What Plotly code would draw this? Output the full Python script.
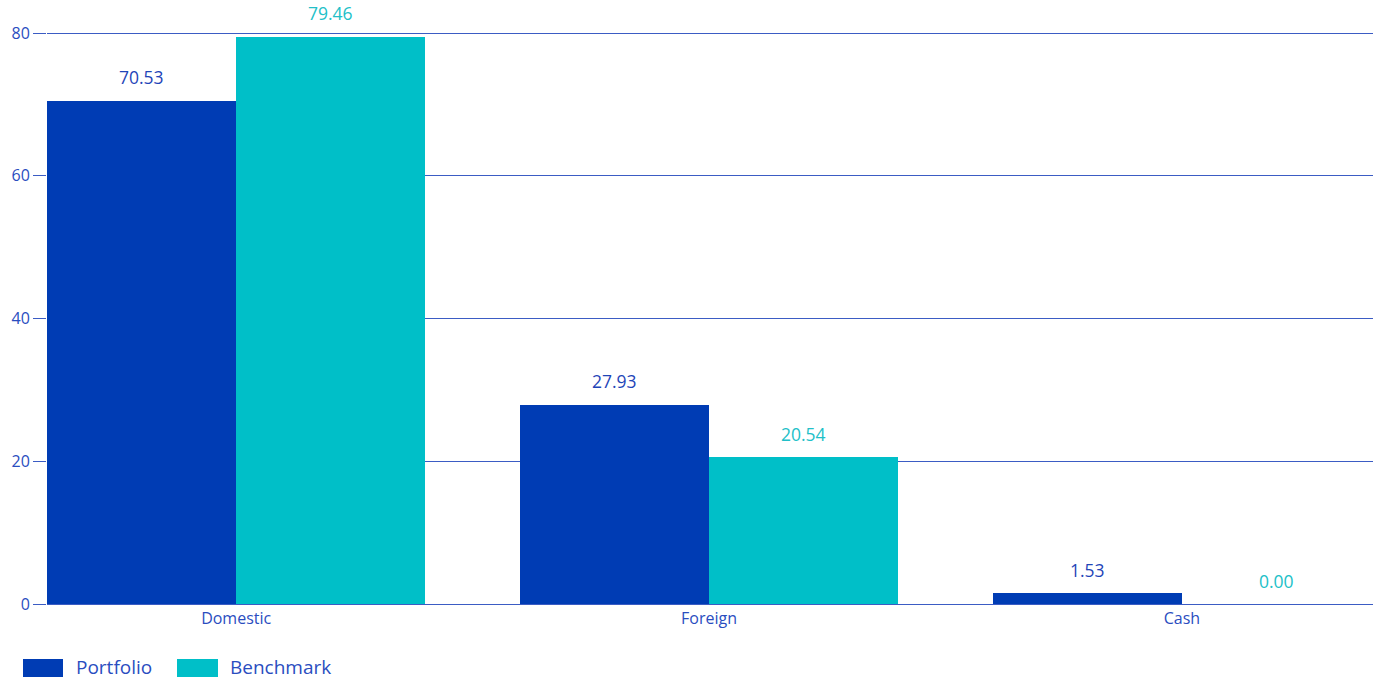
import plotly.graph_objects as go

categories = ["Domestic", "Foreign", "Cash"]
portfolio = [70.53, 27.93, 1.53]
benchmark = [79.46, 20.54, 0.00]
y_ticks = [0, 20, 40, 60, 80]

PORT_COLOR = "#003cb4"
BENCH_COLOR = "#00bfc8"
TEXT_COLOR = "#2a4dbf"
GRID_COLOR = "#3b5cc4"
FONT = "Open Sans"

xpos = list(range(len(categories)))

fig = go.Figure()
fig.add_trace(go.Bar(x=[i - 0.2 for i in xpos], y=portfolio, width=0.4, name="Portfolio",
                     marker=dict(color=PORT_COLOR, line=dict(width=0)), showlegend=False))
fig.add_trace(go.Bar(x=[i + 0.2 for i in xpos], y=benchmark, width=0.4, name="Benchmark",
                     marker=dict(color=BENCH_COLOR, line=dict(width=0)), showlegend=False))

annotations = []
for i, v in enumerate(portfolio):
    annotations.append(dict(x=i - 0.2, y=v, xref="x", yref="y", text=f"{v:.2f}", showarrow=False,
                            yanchor="middle", yshift=23.5, font=dict(color="#1f45b8", size=17.5, family=FONT)))
for i, v in enumerate(benchmark):
    annotations.append(dict(x=i + 0.2, y=v, xref="x", yref="y", text=f"{v:.2f}", showarrow=False,
                            yanchor="middle", yshift=23.5, font=dict(color="#22bfc8", size=17.5, family=FONT)))

# plot area in pixels
PL, PR, PT, PB = 47, 1373, 31, 604
PW, PH = PR - PL, PB - PT

# custom legend (pixel positions converted relative to the plot area)
legend_items = [("Portfolio", PORT_COLOR, 23, 63, 74), ("Benchmark", BENCH_COLOR, 177, 218, 228)]
shapes = []
for name, col, x0, x1, tx in legend_items:
    shapes.append(dict(type="rect", xref="paper", yref="paper", line=dict(width=0), fillcolor=col,
                       x0=(x0 - PL) / PW, x1=(x1 - PL) / PW,
                       y0=(PB - 677) / PH, y1=(PB - 659) / PH))
    annotations.append(dict(x=(tx - PL) / PW, y=(PB - 667) / PH, xref="paper", yref="paper",
                            text=name, showarrow=False, xanchor="left", yanchor="middle",
                            font=dict(color=TEXT_COLOR, size=19, family=FONT)))

fig.update_layout(
    width=1383, height=680,
    margin=dict(l=PL, r=1383 - PR, t=PT, b=680 - PB),
    paper_bgcolor="white", plot_bgcolor="white",
    bargap=0, barmode="overlay",
    font=dict(family=FONT, color=TEXT_COLOR, size=16),
    annotations=annotations, shapes=shapes,
    xaxis=dict(range=[-0.4, 2.404], tickvals=xpos, ticktext=categories, showgrid=False,
               zeroline=False, showline=True, linecolor=GRID_COLOR, linewidth=1,
               ticks="", tickfont=dict(size=16, color=TEXT_COLOR, family=FONT)),
    yaxis=dict(range=[0, 80.28], tickvals=y_ticks, showgrid=True, gridcolor=GRID_COLOR, gridwidth=1,
               zeroline=False, showline=False, ticks="outside", ticklen=13, tickcolor=GRID_COLOR,
               tickfont=dict(size=16, color=TEXT_COLOR, family=FONT)),
)

fig.write_html("out.html", config={"displayModeBar": False},
               post_script="document.body.style.margin='0';")
